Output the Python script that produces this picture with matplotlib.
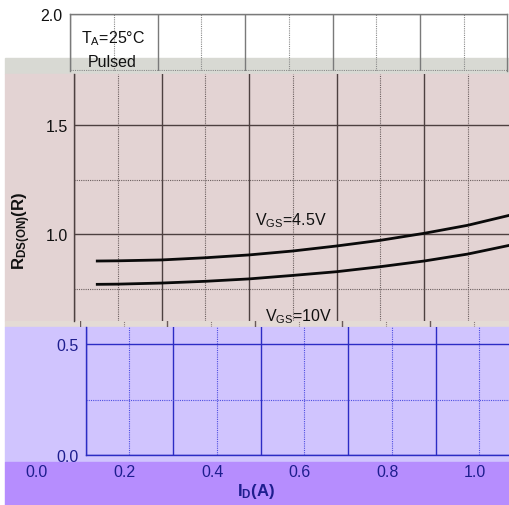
import matplotlib
matplotlib.use("Agg")
import matplotlib.pyplot as plt
from matplotlib.ticker import MultipleLocator
from matplotlib.patches import Rectangle

plt.rcParams['font.family'] = ['Liberation Sans', 'DejaVu Sans']
plt.rcParams['mathtext.fontset'] = 'custom'
plt.rcParams['mathtext.rm'] = 'Liberation Sans'
plt.rcParams['mathtext.bf'] = 'Liberation Sans:bold'
plt.rcParams['mathtext.it'] = 'Liberation Sans:italic'

# data (I_D in A, R_DS(on) normalised)
i_d = [0.05, 0.1, 0.2, 0.3, 0.4, 0.5, 0.6, 0.7, 0.8, 0.9, 1.0]
r_vgs45 = [0.876, 0.877, 0.881, 0.891, 0.904, 0.922, 0.945, 0.971, 1.003, 1.040, 1.088]
r_vgs10 = [0.769, 0.770, 0.775, 0.783, 0.794, 0.810, 0.827, 0.850, 0.876, 0.908, 0.950]
x_ticks = [0.0, 0.2, 0.4, 0.6, 0.8, 1.0]
x_labels = ['0.0', '0.2', '0.4', '0.6', '0.8', '1.0']

W, H = 510, 506
fig = plt.figure(figsize=(W / 100, H / 100), dpi=100)


def box(x0, x1, y0, y1):
    return [x0 / W, 1 - y1 / H, (x1 - x0) / W, (y1 - y0) / H]


def band(x0, y0, y1, c):
    fig.patches.append(Rectangle((x0 / W, 1 - y1 / H), 1 - x0 / W, (y1 - y0) / H,
                                 transform=fig.transFigure, color=c, zorder=-5))


band(5, 59, 75, '#d8d9d3')
band(5, 75, 322, '#e3d3d3')
band(5, 322, 328, '#e4dbd5')
band(5, 328, 463, '#d0c4fe')
band(5, 463, 506, '#b68dfe')


def setup(ax, ylim, major_c, minor_c, lab_c, pad, spines):
    ax.set_facecolor('none')
    ax.set_xlim(0, 1.0)
    ax.set_ylim(*ylim)
    ax.xaxis.set_major_locator(MultipleLocator(0.2))
    ax.xaxis.set_minor_locator(MultipleLocator(0.1))
    ax.yaxis.set_major_locator(MultipleLocator(0.5))
    ax.yaxis.set_minor_locator(MultipleLocator(0.25))
    ax.grid(which='major', color=major_c, lw=1.0)
    ax.grid(which='minor', color=minor_c, lw=0.8, linestyle=(0, (1, 1)))
    ax.tick_params(which='both', length=0)
    ax.tick_params(axis='x', labelbottom=False)
    ax.tick_params(axis='y', labelsize=11.5, labelcolor=lab_c, pad=pad)
    ax.yaxis.set_major_formatter(plt.FuncFormatter(lambda v, p: '%.1f' % v))
    for s in ['top', 'bottom', 'left', 'right']:
        ax.spines[s].set_visible(s in spines)
        ax.spines[s].set_color(major_c)
        ax.spines[s].set_linewidth(1.0)


# top band
axA = fig.add_axes(box(70, 507.5, 15, 72))
setup(axA, (2.0 - 57 / 224, 2.0), '#7a7a7a', '#8a8a8a', '#111111', 5.8,
      ['top', 'left', 'right'])
axA.text(0.025, 1.875, r'T$_\mathregular{A}$=25°C', fontsize=11.5, color='#111111')
axA.text(0.041, 1.768, 'Pulsed', fontsize=11.5, color='#111111')

# pink band with the curves
axB = fig.add_axes(box(74, 511.5, 75, 322))
setup(axB, (1.0 - 87 / 218, 1.5 + 51 / 218), '#4d4040', '#6b5f5f', '#111111', 4.3,
      ['left'])
axB.plot(i_d, r_vgs45, color='#0a0a0a', lw=2.0, solid_capstyle='butt')
axB.plot(i_d, r_vgs10, color='#0a0a0a', lw=2.0, solid_capstyle='butt')
axB.text(0.414, 1.046, r'V$_\mathregular{GS}$=4.5V', fontsize=11.5, color='#111111')
axB.text(0.437, 0.606, r'V$_\mathregular{GS}$=10V', fontsize=11.5, color='#111111')

# thin strip with grid fragments
axS = fig.add_axes(box(80, 517.5, 322, 328))
setup(axS, (0, 1), '#6a5a5a', '#8a7a7a', '#111111', 4, [])
axS.grid(axis='y', which='both', visible=False)
axS.tick_params(axis='y', labelleft=False)

# lavender band
axC = fig.add_axes(box(85.7, 523, 328, 456))
setup(axC, (0.0, 0.5 + 17 / 222), '#2c2cc4', '#4f4fe0', '#1e1e8e', 4.8,
      ['left', 'bottom'])
axC.set_facecolor('#d0c4fe')

# purple band: x tick labels
axD = fig.add_axes(box(37, 475, 462, 463))
axD.set_facecolor('none')
axD.set_xlim(0, 1.0)
axD.set_xticks(x_ticks)
axD.set_xticklabels(x_labels)
axD.set_yticks([])
axD.tick_params(axis='x', length=0, pad=1.4, labelsize=11.5, labelcolor='#1e1e8e')
for s in axD.spines.values():
    s.set_visible(False)

fig.text(256 / W, 1 - 492 / H, r'$\mathbf{I_D(A)}$', fontsize=12, color='#1e1e8e',
         ha='center', va='center')
fig.text(22 / W, 1 - 231 / H, r'$\mathbf{R_{DS(ON)}(R)}$', fontsize=12, color='#111111',
         ha='center', va='center', rotation=90)

fig.savefig('out.png', dpi=100)
